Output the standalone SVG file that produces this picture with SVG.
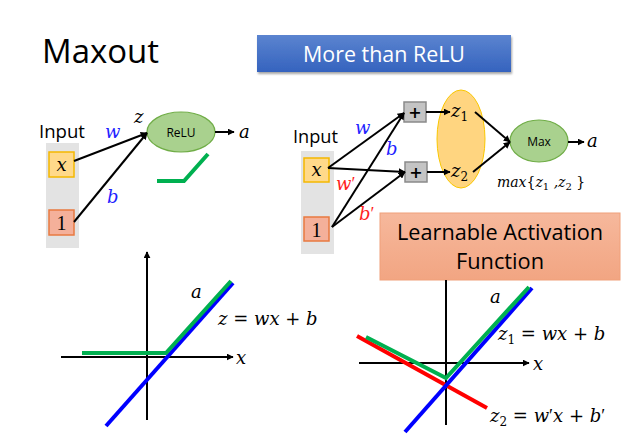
<svg xmlns="http://www.w3.org/2000/svg" width="627" height="448" viewBox="0 0 627 448">
<defs>
<marker id="ah" viewBox="0 0 10 10" refX="9" refY="5" markerWidth="7" markerHeight="7" markerUnits="userSpaceOnUse" orient="auto"><path d="M0,0 L10,5 L0,10 z" fill="#000"/></marker>
<linearGradient id="blueg" x1="0" y1="0" x2="0" y2="1"><stop offset="0" stop-color="#5B84D0"/><stop offset="1" stop-color="#3563BE"/></linearGradient>
<linearGradient id="salg" x1="0" y1="0" x2="0" y2="1"><stop offset="0" stop-color="#F6B89C"/><stop offset="1" stop-color="#F2A582"/></linearGradient>
<filter id="sh" x="-5%" y="-10%" width="110%" height="130%"><feDropShadow dx="1" dy="2" stdDeviation="1" flood-color="#000" flood-opacity="0.35"/></filter>
</defs>
<style>
.sans{font-family:"Open Sans","Liberation Sans",sans-serif;}
.m{font-family:"DejaVu Serif","Liberation Serif",serif;font-style:italic;}
.up{font-style:normal;}
.pr{font-family:"Liberation Serif",serif;font-style:normal;}
.conn{stroke:#000;stroke-width:2;fill:none;}
.ax{stroke:#000;stroke-width:2;fill:none;}
.xbox{fill:#FFD98A;stroke:#F5B800;stroke-width:1.5;}
.obox{fill:#F4B09A;stroke:#E97A40;stroke-width:1.5;}
.pbox{fill:#C4C4C4;stroke:#8A8A8A;stroke-width:1.5;}
.gell{fill:#A9D18E;stroke:#70AD47;stroke-width:1.2;}
</style>
<rect width="627" height="448" fill="#fff"/>

<g id="title"><text x="42" y="63" class="sans" font-size="33" fill="#000" textLength="117" lengthAdjust="spacingAndGlyphs">Maxout</text></g>
<g id="more-than-relu">
<rect x="257" y="35" width="254" height="37" fill="url(#blueg)" filter="url(#sh)"/>
<text x="384" y="62" class="sans" font-size="21" fill="#fff" text-anchor="middle" textLength="162" lengthAdjust="spacingAndGlyphs">More than ReLU</text>
</g>

<!-- Left network -->
<g id="left-input">
<text x="39" y="138" class="sans" font-size="18" fill="#000" textLength="46" lengthAdjust="spacingAndGlyphs">Input</text>
<rect x="46" y="143" width="33" height="105" fill="#E3E3E3"/>
</g>
<g id="left-x"><rect x="49" y="152" width="25" height="25" class="xbox"/><text x="61.5" y="171" class="m" font-size="18" text-anchor="middle">x</text></g>
<g id="left-1"><rect x="49" y="210" width="25" height="25" class="obox"/><text x="61.5" y="230" font-family="Liberation Serif,serif" font-size="20" text-anchor="middle">1</text></g>
<g id="left-relu"><ellipse cx="181" cy="132" rx="34" ry="20" class="gell"/><text x="181" y="137" class="sans" font-size="12" text-anchor="middle">ReLU</text></g>
<g id="left-relu-shape"><polyline points="157,181 184,181 208,154" fill="none" stroke="#00B050" stroke-width="4"/></g>

<!-- Right network -->
<g id="right-input">
<text x="293" y="143" class="sans" font-size="18" fill="#000" textLength="45" lengthAdjust="spacingAndGlyphs">Input</text>
<rect x="301" y="151" width="33" height="103" fill="#E3E3E3"/>
</g>
<g id="right-x"><rect x="304" y="158" width="25" height="24" class="xbox"/><text x="316.5" y="176" class="m" font-size="18" text-anchor="middle">x</text></g>
<g id="right-1"><rect x="304" y="217" width="25" height="24" class="obox"/><text x="316.5" y="237" font-family="Liberation Serif,serif" font-size="20" text-anchor="middle">1</text></g>
<g id="plus-top"><rect x="404" y="102" width="22" height="20" class="pbox"/><text x="415" y="118" font-family="DejaVu Sans,sans-serif" font-size="16" font-weight="bold" text-anchor="middle">+</text></g>
<g id="plus-bottom"><rect x="405" y="162" width="22" height="20" class="pbox"/><text x="416" y="178" font-family="DejaVu Sans,sans-serif" font-size="16" font-weight="bold" text-anchor="middle">+</text></g>
<g id="z-ellipse"><ellipse cx="461" cy="139" rx="24" ry="49" fill="#FFD580" stroke="#F9C700" stroke-width="1"/>
<text x="451" y="117" class="m" font-size="18">z<tspan class="up" font-size="12" dy="4">1</tspan></text>
<text x="451" y="177" class="m" font-size="18">z<tspan class="up" font-size="12" dy="4">2</tspan></text>
</g>
<g id="max-node"><ellipse cx="539" cy="141" rx="29" ry="21" class="gell"/><text x="539" y="146" class="sans" font-size="12" text-anchor="middle">Max</text></g>
<g id="max-formula"><text x="497" y="187" class="m" font-size="14">max<tspan class="up">{</tspan>z<tspan class="up" font-size="10" dy="3">1</tspan><tspan dy="-3"> ,z</tspan><tspan class="up" font-size="10" dy="3">2</tspan><tspan class="up" dy="-3"> }</tspan></text></g>

<g id="learnable-box">
<rect x="380" y="213" width="240" height="67" fill="url(#salg)" stroke="#F0A07A" stroke-width="1"/>
<text x="500" y="240" class="sans" font-size="21" text-anchor="middle" textLength="206" lengthAdjust="spacingAndGlyphs">Learnable Activation</text>
<text x="500" y="269" class="sans" font-size="21" text-anchor="middle" textLength="88" lengthAdjust="spacingAndGlyphs">Function</text>
</g>

<!-- connectors -->
<g id="connectors">
<line x1="74" y1="161" x2="147" y2="133" class="conn" marker-end="url(#ah)"/>
<line x1="74" y1="222" x2="147" y2="133" class="conn" marker-end="url(#ah)"/>
<line x1="215" y1="132" x2="234" y2="132" class="conn" marker-end="url(#ah)"/>
<line x1="328" y1="168" x2="404" y2="113" class="conn" marker-end="url(#ah)"/>
<line x1="328" y1="168" x2="405" y2="172" class="conn" marker-end="url(#ah)"/>
<line x1="332" y1="227" x2="404" y2="113" class="conn" marker-end="url(#ah)"/>
<line x1="332" y1="227" x2="405" y2="172" class="conn" marker-end="url(#ah)"/>
<line x1="426" y1="112" x2="450" y2="112" class="conn" marker-end="url(#ah)"/>
<line x1="427" y1="172" x2="450" y2="172" class="conn" marker-end="url(#ah)"/>
<line x1="475" y1="112" x2="510" y2="142" class="conn" marker-end="url(#ah)"/>
<line x1="473" y1="172" x2="510" y2="142" class="conn" marker-end="url(#ah)"/>
<line x1="568" y1="142" x2="584" y2="142" class="conn" marker-end="url(#ah)"/>
</g>

<g id="labels">
<text x="134" y="123" class="m" font-size="18">z</text>
<text x="105" y="138" class="m" font-size="18" fill="#1F1FFF">w</text>
<text x="107" y="203" class="m" font-size="18" fill="#1F1FFF">b</text>
<text x="239" y="138" class="m" font-size="18">a</text>
<text x="355" y="134" class="m" font-size="18" fill="#1F1FFF">w</text>
<text x="386" y="155" class="m" font-size="18" fill="#1F1FFF">b</text>
<text x="336" y="190" class="m" font-size="18" fill="#FF1F1F">w<tspan class="pr">′</tspan></text>
<text x="359" y="220" class="m" font-size="18" fill="#FF1F1F">b<tspan class="pr">′</tspan></text>
<text x="587" y="147" class="m" font-size="18">a</text>
</g>

<!-- bottom-left graph -->
<g id="graph-left">
<line x1="147" y1="420" x2="147" y2="252" class="ax" marker-end="url(#ah)"/>
<line x1="61" y1="357" x2="233" y2="357" class="ax" marker-end="url(#ah)"/>
<line x1="106" y1="426" x2="233" y2="283" stroke="#0000FF" stroke-width="4"/>
<polyline points="82,353 166,353 231,281" fill="none" stroke="#00B050" stroke-width="4"/>
<text x="236" y="364" class="m" font-size="18">x</text>
<text x="191" y="298" class="m" font-size="18">a</text>
<text x="218" y="325" class="m" font-size="18">z<tspan class="up"> = </tspan>wx<tspan class="up"> + </tspan>b</text>
</g>

<!-- bottom-right graph -->
<g id="graph-right">
<line x1="446" y1="280" x2="446" y2="425" class="ax"/>
<line x1="359" y1="363" x2="529" y2="363" class="ax" marker-end="url(#ah)"/>
<line x1="357" y1="336" x2="487" y2="408" stroke="#FF0000" stroke-width="4"/>
<line x1="405" y1="432" x2="532" y2="288" stroke="#0000FF" stroke-width="4"/>
<polyline points="366,337 446,378 529,287" fill="none" stroke="#00B050" stroke-width="4"/>
<text x="533" y="370" class="m" font-size="18">x</text>
<text x="490" y="303" class="m" font-size="18">a</text>
<text x="498" y="340" class="m" font-size="18">z<tspan class="up" font-size="12" dy="4">1</tspan><tspan class="up" dy="-4"> = </tspan>wx<tspan class="up"> + </tspan>b</text>
<text x="490" y="422" class="m" font-size="18">z<tspan class="up" font-size="12" dy="4">2</tspan><tspan class="up" dy="-4"> = </tspan>w<tspan class="pr">′</tspan>x<tspan class="up"> + </tspan>b<tspan class="pr">′</tspan></text>
</g>
</svg>
